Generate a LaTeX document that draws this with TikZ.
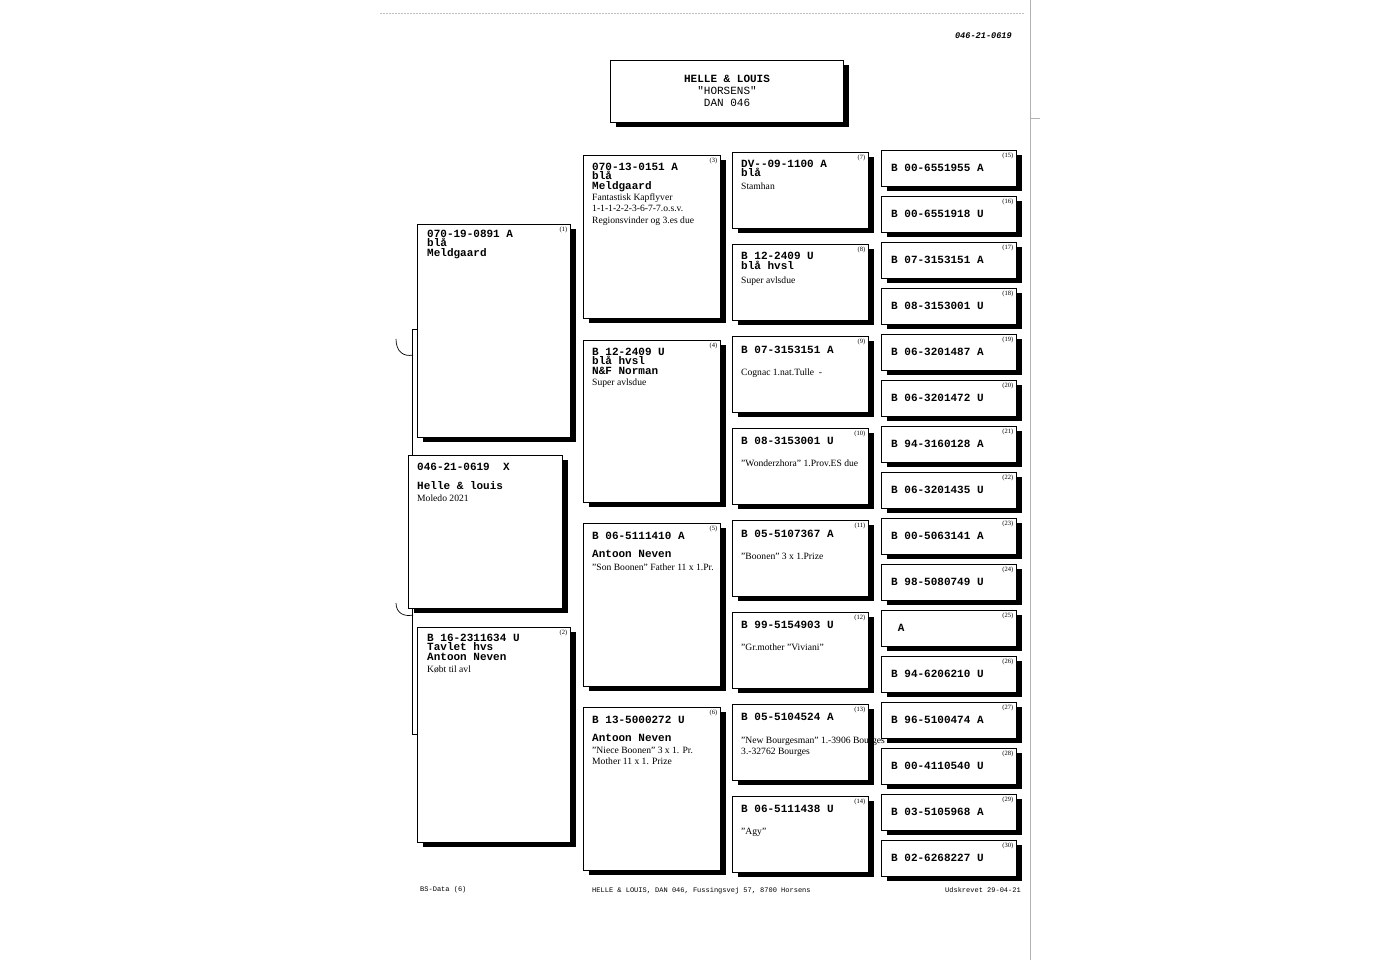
\documentclass[tikz,border=0pt]{standalone}
\usepackage{fontspec}
\setmainfont{Liberation Serif}
\setmonofont{Liberation Mono}
\usetikzlibrary{fit,shadows}
\tikzset{
  pb/.style={draw=black, line width=0.8pt, fill=white, inner sep=0pt,
    drop shadow={shadow xshift=6pt, shadow yshift=-5pt, fill=black, opacity=1}},
  mt/.style={font=\ttfamily\bfseries\fontsize{11}{11}\selectfont, inner sep=0pt, anchor=base west},
  st/.style={font=\rmfamily\fontsize{9.6}{10}\selectfont, inner sep=0pt, anchor=base west},
  nl/.style={font=\rmfamily\fontsize{6.5}{7}\selectfont, inner sep=0pt, anchor=north east},
  ft/.style={font=\ttfamily\fontsize{7}{8}\selectfont, inner sep=0pt, anchor=base west},
  link/.style={draw=black, line width=0.7pt},
}
\newcommand\pedbox[5]{\node[pb, fit={(#2,#3) (#4,#5)}] (#1) {};}
\newcommand\pedlbl[2]{\node[nl] (l#1) at ([xshift=-3pt,yshift=-3pt]#1.north east) {(#2)};}
\begin{document}
\begin{tikzpicture}[x=1pt,y=-1pt]
\fill[white] (0,0) rectangle (1400,960);
\useasboundingbox (0,0) rectangle (1400,960);

% page edges (scan)
\draw[gray!50, dash pattern=on 2pt off 1pt, line width=0.6pt] (380,13) -- (1025,13);
\draw[gray!60, line width=0.6pt] (1030,0) -- (1030,960);
\draw[gray!60, line width=0.6pt] (1030,118) -- (1040,118);

% reference number top right
\node[font=\ttfamily\bfseries\itshape\fontsize{8.6}{9}\selectfont, anchor=base east, inner sep=0pt] (ref) at (1012,39) {046-21-0619};

% header
\pedbox{hd}{610}{60}{843}{122}
\node[font=\ttfamily\bfseries\fontsize{11}{11}\selectfont, anchor=base, inner sep=0pt] (h1) at (727,82.5) {HELLE \& LOUIS};
\node[font=\ttfamily\fontsize{11}{11}\selectfont, anchor=base, inner sep=0pt] (h2) at (727,95) {"HORSENS"};
\node[font=\ttfamily\fontsize{11}{11}\selectfont, anchor=base, inner sep=0pt] (h3) at (727,106.5) {DAN 046};

% connectors
\coordinate (k1) at (412,329);
\coordinate (k2) at (412,734);

% generation 1
\pedbox{b1}{417}{224}{570}{437}
\pedlbl{b1}{1}
\pedbox{s}{408}{455}{562}{608}
\pedbox{b2}{417}{627}{570}{842}
\pedlbl{b2}{2}
\draw[link] (b1.west |- k1) -- (k1) -- (k1 |- s.north);
\draw[link] (k2 |- s.south) -- (k2) -- (b2.west |- k2);
\draw[link] (396,339) .. controls (396,352) and (404,357) .. (413,355);
\draw[link] (396,603) .. controls (396,613) and (404,617) .. (413,615);

% generation 2
\pedbox{b3}{583}{155}{720}{318}
\pedlbl{b3}{3}
\pedbox{b4}{583}{340}{720}{502}
\pedlbl{b4}{4}
\pedbox{b5}{583}{523}{720}{686}
\pedlbl{b5}{5}
\pedbox{b6}{583}{707}{720}{870}
\pedlbl{b6}{6}

% generation 3
\foreach \i in {7,...,14}{
  \pgfmathsetmacro\yt{152+92*(\i-7)}
  \pgfmathsetmacro\yb{\yt+76}
  \node[pb, fit={(732,\yt) (868,\yb)}] (b\i) {};
  \node[nl] (lb\i) at ([xshift=-3pt,yshift=-3pt]b\i.north east) {(\i)};
}

% generation 4
\foreach \i/\t in {15/{B 00-6551955 A},16/{B 00-6551918 U},17/{B 07-3153151 A},18/{B 08-3153001 U},
  19/{B 06-3201487 A},20/{B 06-3201472 U},21/{B 94-3160128 A},22/{B 06-3201435 U},
  23/{B 00-5063141 A},24/{B 98-5080749 U},25/{\ A},26/{B 94-6206210 U},
  27/{B 96-5100474 A},28/{B 00-4110540 U},29/{B 03-5105968 A},30/{B 02-6268227 U}}{
  \pgfmathsetmacro\yt{150+46*(\i-15)}
  \pgfmathsetmacro\yb{\yt+36}
  \pgfmathsetmacro\ytx{\yt+21.5}
  \node[pb, fit={(881,\yt) (1016,\yb)}] (b\i) {};
  \node[nl] (lb\i) at ([xshift=-3pt,yshift=-3pt]b\i.north east) {(\i)};
  \node[mt] (t\i) at (891,\ytx) {\t};
}

% texts generation 1
\node[mt] (t1a) at (427,237.5) {070-19-0891 A};
\node[mt] (t1b) at (427,246.5) {blå};
\node[mt] (t1c) at (427,256.5) {Meldgaard};
\node[mt] (tsa) at (417,470.5) {046-21-0619\ \ X};
\node[mt] (tsb) at (417,489.5) {Helle \& louis};
\node[st] (tsc) at (417,501) {Moledo 2021};
\node[mt] (t2a) at (427,641.5) {B 16-2311634 U};
\node[mt] (t2b) at (427,650.5) {Tavlet hvs};
\node[mt] (t2c) at (427,660.5) {Antoon Neven};
\node[st] (t2d) at (427,672) {Købt til avl};

% texts generation 2
\node[mt] (t3a) at (592,170.5) {070-13-0151 A};
\node[mt] (t3b) at (592,179.5) {blå};
\node[mt] (t3c) at (592,189.5) {Meldgaard};
\node[st] (t3d) at (592,201) {Fantastisk Kapflyver};
\node[st] (t3e) at (592,212) {1-1-1-2-2-3-6-7-7.o.s.v.};
\node[st] (t3f) at (592,223) {Regionsvinder og 3.es due};
\node[mt] (t4a) at (592,355.5) {B 12-2409 U};
\node[mt] (t4b) at (592,364.5) {blå hvsl};
\node[mt] (t4c) at (592,374.5) {N\&F Norman};
\node[st] (t4d) at (592,385) {Super avlsdue};
\node[mt] (t5a) at (592,539.5) {B 06-5111410 A};
\node[mt] (t5b) at (592,557.5) {Antoon Neven};
\node[st] (t5c) at (592,570) {"Son Boonen" Father 11 x 1.Pr.};
\node[mt] (t6a) at (592,723.5) {B 13-5000272 U};
\node[mt] (t6b) at (592,741.5) {Antoon Neven};
\node[st] (t6c) at (592,753) {"Niece Boonen" 3 x 1. Pr.};
\node[st] (t6d) at (592,764) {Mother 11 x 1. Prize};

% texts generation 3
\node[mt] (t7a) at (741,167.5) {DV--09-1100 A};
\node[mt] (t7b) at (741,176.5) {blå};
\node[st] (t7c) at (741,190) {Stamhan};
\node[mt] (t8a) at (741,259.5) {B 12-2409 U};
\node[mt] (t8b) at (741,269.5) {blå hvsl};
\node[st] (t8c) at (741,283) {Super avlsdue};
\node[mt] (t9a) at (741,353.5) {B 07-3153151 A};
\node[st] (t9b) at (741,375) {Cognac 1.nat.Tulle\enspace -};
\node[mt] (t10a) at (741,444.5) {B 08-3153001 U};
\node[st] (t10b) at (741,466) {"Wonderzhora" 1.Prov.ES due};
\node[mt] (t11a) at (741,537.5) {B 05-5107367 A};
\node[st] (t11b) at (741,559) {"Boonen" 3 x 1.Prize};
\node[mt] (t12a) at (741,628.5) {B 99-5154903 U};
\node[st] (t12b) at (741,650) {"Gr.mother "Viviani"};
\node[mt] (t13a) at (741,720.5) {B 05-5104524 A};
\node[st] (t13b) at (741,743) {"New Bourgesman" 1.-3906 Bourges};
\node[st] (t13c) at (741,754) {3.-32762 Bourges};
\node[mt] (t14a) at (741,812.5) {B 06-5111438 U};
\node[st] (t14b) at (741,834) {"Agy"};

% footer
\node[ft] (f1) at (420,891) {BS-Data (6)};
\node[ft] (f2) at (592,892) {HELLE \& LOUIS, DAN 046, Fussingsvej 57, 8700 Horsens};
\node[ft, anchor=base east] (f3) at (1021,892) {Udskrevet 29-04-21};
\end{tikzpicture}
\end{document}
